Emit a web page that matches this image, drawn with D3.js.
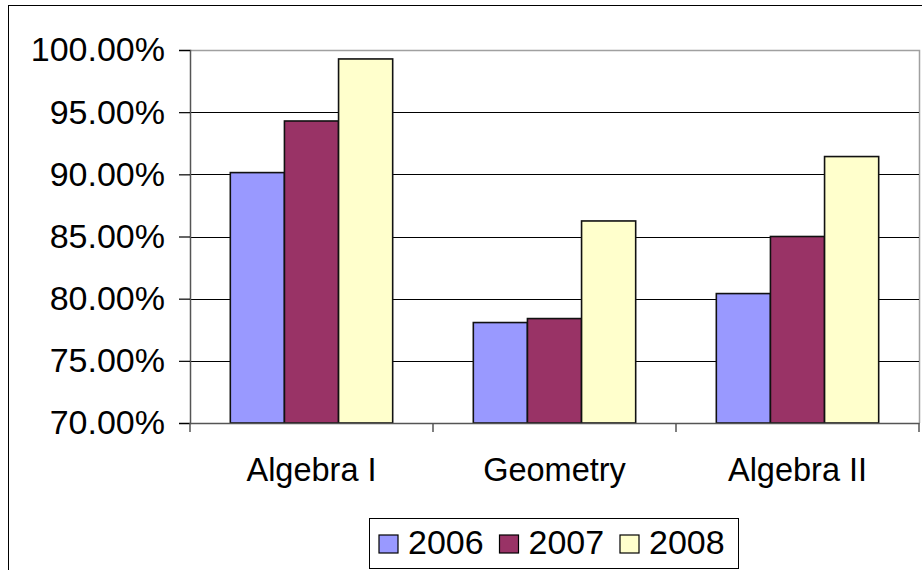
<!DOCTYPE html>
<html>
<head>
<meta charset="utf-8">
<script src="https://cdn.jsdelivr.net/npm/d3@7"></script>
<style>
  body { margin: 0; background: #fff; }
  text { font-family: Arial, "Liberation Sans", sans-serif; fill: #000; }
</style>
</head>
<body>
<div id="chart"></div>
<script>
// data
const categories = ['Algebra I', 'Geometry', 'Algebra II'];
const years = ['2006', '2007', '2008'];
const values2006 = [0.9014, 0.7808, 0.8041];
const values2007 = [0.9429, 0.7840, 0.8500];
const values2008 = [0.9928, 0.8625, 0.9143];
const yTicks = [0.70, 0.75, 0.80, 0.85, 0.90, 0.95, 1.00];
const colors = ['#9999ff', '#993366', '#ffffcc'];

const width = 922, height = 570;
const plot = { left: 190, right: 919, top: 50, bottom: 423 };

const svg = d3.select('#chart')
  .append('svg')
  .attr('width', width)
  .attr('height', height);

// outer chart border (runs off the right and bottom edges)
svg.append('rect')
  .attr('x', 8.5).attr('y', 5.5)
  .attr('width', width + 20).attr('height', height + 20)
  .attr('fill', '#fff')
  .attr('stroke', '#000')
  .attr('stroke-width', 1);

const x = d3.scaleBand()
  .domain(categories)
  .range([plot.left, plot.right]);

const x1 = d3.scaleBand()
  .domain(years)
  .range([0, x.bandwidth()])
  .paddingOuter(0.745);

const y = d3.scaleLinear()
  .domain([0.70, 1.00])
  .range([plot.bottom, plot.top]);

// plot area frame (top/right in gray)
svg.append('path')
  .attr('d', `M${plot.left},${plot.top + 0.5}H${plot.right + 0.5}V${plot.bottom}`)
  .attr('fill', 'none')
  .attr('stroke', '#a0a0a0')
  .attr('stroke-width', 1.5);

// gridlines
svg.append('g')
  .selectAll('line')
  .data(yTicks.filter((d) => d > 0.70 && d < 1.00))
  .join('line')
  .attr('x1', plot.left)
  .attr('x2', plot.right)
  .attr('y1', (d) => Math.round(y(d)) + 0.5)
  .attr('y2', (d) => Math.round(y(d)) + 0.5)
  .attr('stroke', '#000')
  .attr('stroke-width', 1.2);

// bars
const series = [values2006, values2007, values2008];
const rows = [];
categories.forEach((c, i) => {
  years.forEach((yr, j) => {
    rows.push({ cat: c, year: yr, value: series[j][i], color: colors[j] });
  });
});

svg.append('g')
  .selectAll('rect')
  .data(rows)
  .join('rect')
  .attr('x', (d) => x(d.cat) + x1(d.year))
  .attr('y', (d) => y(d.value))
  .attr('width', x1.bandwidth())
  .attr('height', (d) => y(0.70) - y(d.value))
  .attr('fill', (d) => d.color)
  .attr('stroke', '#111')
  .attr('stroke-width', 1.6);

// y axis
const yAxis = svg.append('g')
  .attr('transform', `translate(${plot.left},0)`)
  .call(d3.axisLeft(y)
    .tickValues(yTicks)
    .tickSize(11)
    .tickPadding(14)
    .tickFormat(d3.format('.2%')));
yAxis.select('.domain').attr('stroke', '#555').attr('stroke-width', 1.5);
yAxis.selectAll('.tick line').attr('stroke', '#000').attr('stroke-width', 1.2);
yAxis.selectAll('.tick text')
  .style('font-size', '34px')
  .attr('fill', '#000');

// x axis
const xAxis = svg.append('g')
  .attr('transform', `translate(0,${plot.bottom})`)
  .call(d3.axisBottom(x).tickSize(0).tickPadding(35));
xAxis.select('.domain').attr('stroke', '#555').attr('stroke-width', 1.5);
xAxis.selectAll('.tick text')
  .style('font-size', '32.5px')
  .attr('fill', '#000');

// category dividers
svg.append('g')
  .selectAll('line')
  .data(categories.map((c) => x(c)).concat([x(categories[categories.length - 1]) + x.bandwidth()]))
  .join('line')
  .attr('x1', (d) => d)
  .attr('x2', (d) => d)
  .attr('y1', plot.bottom)
  .attr('y2', plot.bottom + 9)
  .attr('stroke', '#555')
  .attr('stroke-width', 1.5);

// legend
const legend = svg.append('g').attr('transform', 'translate(369,518)');
legend.append('rect')
  .attr('x', 0.5).attr('y', 0.5)
  .attr('width', 369).attr('height', 50)
  .attr('fill', '#fff')
  .attr('stroke', '#000');

const item = legend.selectAll('g.item')
  .data(years)
  .join('g')
  .attr('class', 'item')
  .attr('transform', (d, i) => `translate(${10 + i * 120.5},0)`);

item.append('rect')
  .attr('x', 0).attr('y', 17)
  .attr('width', 19).attr('height', 18)
  .attr('fill', (d, i) => colors[i])
  .attr('stroke', '#000')
  .attr('stroke-width', 1.2);

item.append('text')
  .attr('x', 29)
  .attr('y', 36)
  .style('font-size', '34px')
  .text((d) => d);
</script>
</body>
</html>
